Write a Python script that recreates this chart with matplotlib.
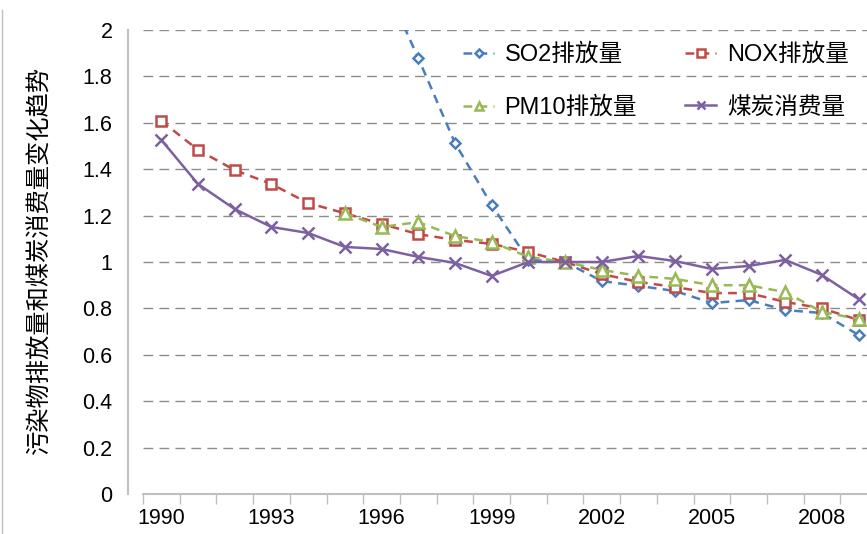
import numpy as np
import matplotlib
matplotlib.use("Agg")
import matplotlib.pyplot as plt
from matplotlib.lines import Line2D

plt.rcParams['font.family'] = ['Liberation Sans', 'Noto Sans CJK SC', 'DejaVu Sans']

years = [str(y) for y in range(1990, 2010)]
nan = np.nan
so2 = [nan, nan, nan, nan, nan, nan, 2.23, 1.879, 1.513, 1.246, 1.009, 1.0,
       0.918, 0.897, 0.875, 0.823, 0.836, 0.793, 0.78, 0.685]
nox = [1.608, 1.483, 1.396, 1.336, 1.254, 1.21, 1.164, 1.12, 1.095, 1.078, 1.043, 1.0,
       0.948, 0.914, 0.892, 0.866, 0.866, 0.828, 0.80, 0.75]
pm10 = [nan, nan, nan, nan, nan, 1.21, 1.151, 1.172, 1.112, 1.086, 1.022, 1.0,
        0.966, 0.94, 0.927, 0.90, 0.90, 0.87, 0.785, 0.754]
coal = [1.526, 1.336, 1.228, 1.151, 1.125, 1.065, 1.056, 1.022, 0.996, 0.94, 1.0, 1.0,
        1.0, 1.026, 1.004, 0.97, 0.983, 1.009, 0.944, 0.84]
labels = ['SO2排放量', 'NOX排放量', 'PM10排放量', '煤炭消费量']
yticks = [0, 0.2, 0.4, 0.6, 0.8, 1, 1.2, 1.4, 1.6, 1.8, 2]
ylabel = '污染物排放量和煤炭消费量变化趋势'

W, H = 867, 534
fig = plt.figure(figsize=(W / 100, H / 100), dpi=100)
ax = fig.add_axes([143 / W, 40 / H, (877 - 143) / W, 464 / H])

x = np.arange(len(years))
c_so2, c_nox, c_pm, c_coal = '#4A7EBB', '#BE4B48', '#98B954', '#7D60A0'
h1, = ax.plot(x, so2, color=c_so2, ls=(0, (3.5, 2.5)), lw=1.8, marker='D', ms=5.5,
              mfc='white', mec=c_so2, mew=1.8, label=labels[0], zorder=3)
h2, = ax.plot(x, nox, color=c_nox, ls=(0, (3.5, 2.5)), lw=1.8, marker='s', ms=7.5,
              mfc='white', mec=c_nox, mew=1.8, label=labels[1], zorder=3)
h3, = ax.plot(x, pm10, color=c_pm, ls=(0, (3.5, 2.5)), lw=1.8, marker='^', ms=8,
              mfc='white', mec=c_pm, mew=1.8, label=labels[2], zorder=3)
h4, = ax.plot(x, coal, color=c_coal, ls='-', lw=1.8, marker='x', ms=8,
              mec=c_coal, mew=1.8, label=labels[3], zorder=4)

ax.set_xlim(-0.5, len(years) - 0.5)
ax.set_ylim(0, 2)
ax.set_yticks(yticks)
ax.set_yticklabels([('%g' % v) for v in yticks])
ax.yaxis.grid(True, color='#8c8c8c', ls=(0, (7, 4.5)), lw=1.0)
ax.set_axisbelow(True)

ax.set_xticks(np.arange(-0.5, len(years) - 0.5, 1.0))
ax.set_xticklabels([])
ax.set_xticks(x[::3], minor=True)
ax.set_xticklabels(years[::3], minor=True)
ax.tick_params(axis='x', which='major', length=7, width=1, color='#bfbfbf', direction='out')
ax.tick_params(axis='x', which='minor', length=0, pad=10, labelsize=15.5)
ax.tick_params(axis='y', length=0, pad=11, labelsize=15.5)

for s in ['top', 'right']:
    ax.spines[s].set_visible(False)
ax.spines['left'].set_position(('outward', 11))
ax.spines['left'].set_color('#bfbfbf')
ax.spines['left'].set_linewidth(1.5)
ax.spines['bottom'].set_color('#bfbfbf')
ax.spines['bottom'].set_linewidth(1.5)

fig.text(40 / W, 1 - 260 / H, ylabel, rotation=90, ha='center', va='center',
         fontsize=17.5, family=['Noto Sans CJK SC', 'DejaVu Sans'])

leg = ax.legend([h1, h3, h2, h4], [labels[0], labels[2], labels[1], labels[3]],
                ncol=2, loc='upper left', bbox_to_anchor=(442 / W, 1 - 22 / H),
                bbox_transform=fig.transFigure, frameon=False, fontsize=17,
                handlelength=1.3, handletextpad=0.45, columnspacing=2.05,
                labelspacing=1.3, markerscale=0.7)
for t in leg.get_texts():
    t.set_family(['Liberation Sans', 'Noto Sans CJK SC'])

fig.add_artist(Line2D([2 / W, 2 / W], [0, 1 - 10 / H], transform=fig.transFigure,
                      color='#bfbfbf', lw=1))

fig.savefig('out.png', dpi=100)
